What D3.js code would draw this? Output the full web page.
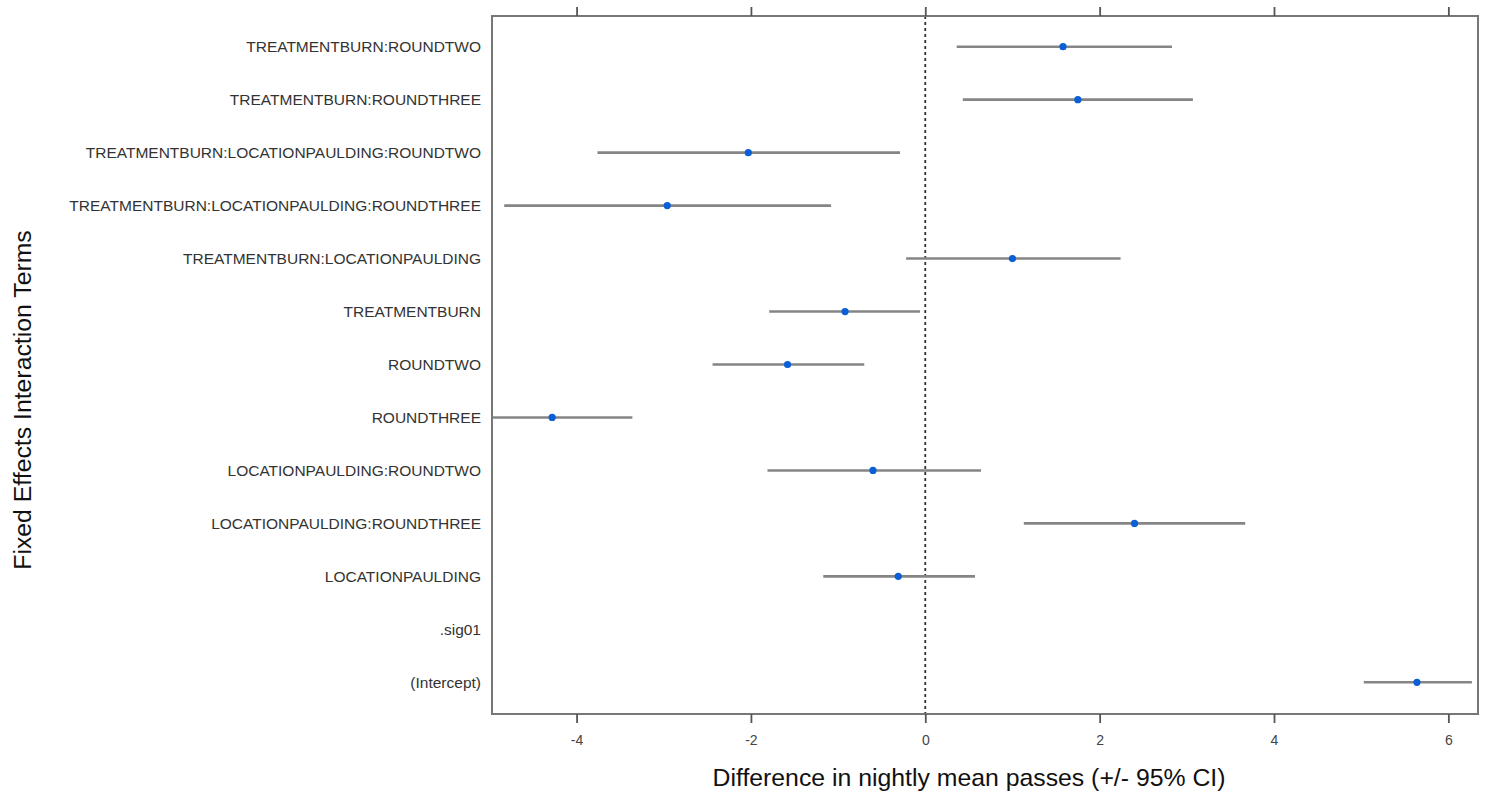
<!DOCTYPE html>
<html>
<head>
<meta charset="utf-8">
<title>Fixed effects interaction terms</title>
<script src="https://cdnjs.cloudflare.com/ajax/libs/d3/7.8.5/d3.min.js"></script>
<style>
body { margin: 0; background: #fff; }
svg { display: block; font-family: "Liberation Sans", Arial, sans-serif; }
.term text { fill: #333; font-size: 15.5px; }
.tick text { fill: #444; font-size: 14px; }
.title { fill: #111; font-size: 24.8px; }
</style>
</head>
<body>
<div id="chart"></div>
<script>
// terms, top to bottom
var terms = ["TREATMENTBURN:ROUNDTWO", "TREATMENTBURN:ROUNDTHREE",
  "TREATMENTBURN:LOCATIONPAULDING:ROUNDTWO", "TREATMENTBURN:LOCATIONPAULDING:ROUNDTHREE",
  "TREATMENTBURN:LOCATIONPAULDING", "TREATMENTBURN", "ROUNDTWO", "ROUNDTHREE",
  "LOCATIONPAULDING:ROUNDTWO", "LOCATIONPAULDING:ROUNDTHREE", "LOCATIONPAULDING",
  ".sig01", "(Intercept)"];
// point estimate and 95% CI (null = not shown)
var estimate = [1.58, 1.75, -2.03, -2.96, 1.00, -0.92, -1.58, -4.28, -0.60, 2.40, -0.31, null, 5.64];
var lower    = [0.36, 0.43, -3.76, -4.83, -0.22, -1.79, -2.44, -5.20, -1.81, 1.13, -1.17, null, 5.03];
var upper    = [2.83, 3.07, -0.29, -1.08, 2.24, -0.06, -0.70, -3.36, 0.64, 3.67, 0.57, null, 6.27];
var xTicks = [-4, -2, 0, 2, 4, 6];

var W = 1490, H = 798;
var m = { left: 492, right: 1478, top: 16, bottom: 714 };

var svg = d3.select("#chart").append("svg").attr("width", W).attr("height", H);

var x = d3.scaleLinear().domain([-4.97, 6.34]).range([m.left, m.right]);
var y = d3.scalePoint().domain(terms).range([46.7, 682.3]);

svg.append("defs").append("clipPath").attr("id", "plot")
  .append("rect").attr("x", m.left).attr("y", m.top)
  .attr("width", m.right - m.left).attr("height", m.bottom - m.top);

// zero reference
svg.append("line")
  .attr("x1", x(0)).attr("x2", x(0))
  .attr("y1", m.top).attr("y2", m.bottom)
  .style("stroke", "#333").style("stroke-width", 1.8)
  .style("stroke-dasharray", "3,3");

var rows = terms.map(function (t, i) {
  return { term: t, est: estimate[i], lo: lower[i], hi: upper[i] };
}).filter(function (d) { return d.est !== null; });

var g = svg.append("g").attr("clip-path", "url(#plot)");
g.selectAll("line.ci").data(rows).enter().append("line")
  .attr("class", "ci")
  .attr("x1", function (d) { return x(d.lo); })
  .attr("x2", function (d) { return x(d.hi); })
  .attr("y1", function (d) { return y(d.term); })
  .attr("y2", function (d) { return y(d.term); })
  .style("stroke", "#858585").style("stroke-width", 2.6);
g.selectAll("circle").data(rows).enter().append("circle")
  .attr("cx", function (d) { return x(d.est); })
  .attr("cy", function (d) { return y(d.term); })
  .attr("r", 3.6)
  .style("fill", "#0a5fd6");

// frame
svg.append("rect")
  .attr("x", m.left).attr("y", m.top)
  .attr("width", m.right - m.left).attr("height", m.bottom - m.top)
  .style("fill", "none").style("stroke", "#777").style("stroke-width", 2);

// axes
var bottomAxis = svg.append("g").attr("transform", "translate(0," + m.bottom + ")")
  .call(d3.axisBottom(x).tickValues(xTicks).tickSize(9).tickPadding(12)
    .tickFormat(d3.format("d")));
svg.append("g").attr("transform", "translate(0," + m.top + ")")
  .call(d3.axisTop(x).tickValues(xTicks).tickSize(9).tickFormat(""));
svg.selectAll(".domain").remove();
svg.selectAll(".tick line").style("stroke", "#555").style("stroke-width", 1.8);
bottomAxis.selectAll("text")
  .attr("font-family", null).attr("font-size", null)
  .text(function (d) { return d < 0 ? "-" + Math.abs(d) : d; });

// term labels
svg.append("g").attr("class", "term")
  .selectAll("text").data(terms).enter().append("text")
  .attr("x", 481)
  .attr("y", function (d) { return y(d); })
  .attr("dy", "0.35em")
  .attr("text-anchor", "end")
  .text(function (d) { return d; });

svg.append("text").attr("class", "title")
  .attr("x", 969).attr("y", 786)
  .attr("text-anchor", "middle")
  .text("Difference in nightly mean passes (+/- 95% CI)");

svg.append("text").attr("class", "title")
  .attr("transform", "translate(31,400) rotate(-90)")
  .attr("text-anchor", "middle")
  .text("Fixed Effects Interaction Terms");
</script>
</body>
</html>
